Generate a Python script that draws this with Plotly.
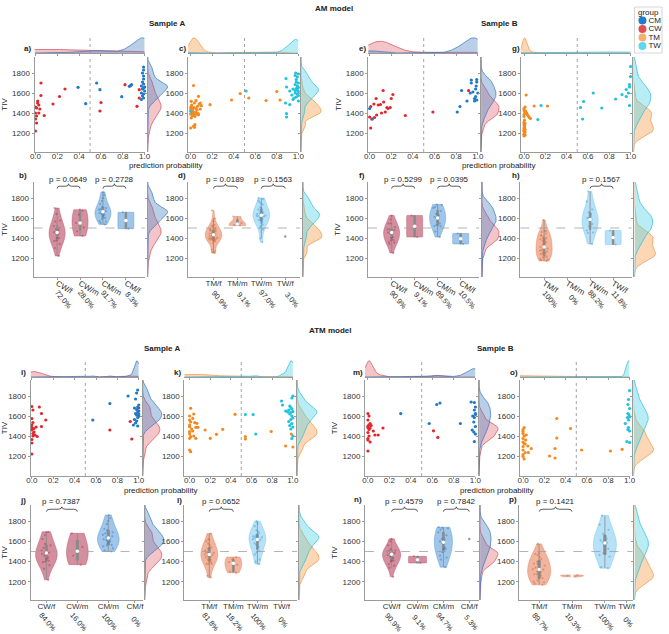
import numpy as np
import plotly.graph_objects as go

W, H = 669, 634
FONT = "Liberation Sans, Arial, sans-serif"
GRAY = "#9b9b9b"

# ---- data: (prediction probability, TIV) per subject ----
# AM model, sample A
am_a_cw = [(0.00, 1220), (0.00, 1340), (0.01, 1370), (0.00, 1400), (0.01, 1450), (0.02, 1500),
           (0.02, 1520), (0.03, 1480), (0.04, 1440), (0.03, 1400), (0.05, 1575), (0.05, 1700),
           (0.08, 1375), (0.16, 1490), (0.22, 1565), (0.27, 1640), (0.00, 1460), (0.01, 1300),
           (0.60, 1505), (0.59, 1420), (0.82, 1683), (0.87, 1673), (0.95, 1633), (0.95, 1550),
           (0.93, 1467)]
am_a_cm = [(0.39, 1657), (0.46, 1493), (0.56, 1700), (0.59, 1633), (0.79, 1563), (0.86, 1667),
           (0.88, 1683), (0.99, 1860), (0.99, 1830), (0.98, 1800), (0.99, 1770), (0.99, 1740),
           (0.98, 1710), (0.99, 1690), (0.97, 1670), (0.99, 1650), (0.98, 1640), (1.00, 1620),
           (0.97, 1600), (0.99, 1590), (0.98, 1570), (0.99, 1550), (0.97, 1535), (1.00, 1660)]
am_a_tm = [(0.027, 1675), (0.073, 1567), (0.05, 1523), (0.006, 1517), (0.10, 1473), (0.09, 1440),
           (0.064, 1467), (0.00, 1450), (0.02, 1433), (0.012, 1400), (0.027, 1383), (0.058, 1393),
           (0.073, 1383), (0.04, 1367), (0.006, 1350), (0.04, 1283), (0.036, 1257), (0.00, 1250),
           (0.027, 1267), (0.18, 1483), (0.38, 1530), (0.46, 1595), (0.01, 1480), (0.03, 1455),
           (0.015, 1420), (0.045, 1410), (0.00, 1390), (0.02, 1375), (0.06, 1430), (0.08, 1490),
           (0.035, 1500), (0.005, 1465), (0.05, 1445), (0.025, 1405), (0.00, 1425), (0.07, 1395),
           (0.015, 1370), (0.09, 1500), (0.04, 1385), (0.01, 1440),
           (0.54, 1550), (0.70, 1525), (0.80, 1615), (0.83, 1530)]
am_a_tw = [(0.003, 1415), (0.515, 1620), (0.885, 1745), (0.975, 1800), (0.97, 1775), (0.89, 1660),
           (0.97, 1685), (0.95, 1640), (0.92, 1620), (0.88, 1500), (0.89, 1395), (0.89, 1360),
           (0.92, 1485), (0.95, 1535), (0.98, 1735), (1.00, 1790), (0.99, 1760), (0.98, 1710),
           (1.00, 1700), (0.99, 1670), (1.00, 1655), (0.98, 1645), (0.99, 1630), (1.00, 1615),
           (0.97, 1600), (0.99, 1590), (1.00, 1575), (0.98, 1560), (0.96, 1550), (1.00, 1520),
           (0.97, 1625), (0.99, 1650), (0.94, 1580)]

# AM model, sample B
am_b_cw = [(0.00, 1360), (0.01, 1250), (0.02, 1340), (0.01, 1465), (0.045, 1355), (0.065, 1380),
           (0.06, 1545), (0.08, 1480), (0.10, 1485), (0.125, 1625), (0.13, 1510), (0.145, 1410),
           (0.16, 1455), (0.17, 1445), (0.19, 1455), (0.20, 1545), (0.215, 1585), (0.33, 1375),
           (0.04, 1490), (0.11, 1400), (0.585, 1410), (0.915, 1625)]
am_b_cm = [(0.025, 1340), (0.00, 1445), (0.81, 1410), (0.835, 1465), (0.85, 1625), (0.90, 1520),
           (0.93, 1600), (0.94, 1700), (0.94, 1730), (0.955, 1610), (0.97, 1545), (0.98, 1565),
           (0.98, 1640), (0.99, 1735), (0.99, 1710), (0.99, 1530), (1.00, 1600), (0.985, 1670),
           (0.97, 1520)]
am_b_tm = [(0.01, 1460), (0.00, 1445), (0.00, 1430), (0.005, 1415), (0.01, 1400), (0.00, 1385),
           (0.00, 1365), (0.005, 1330), (0.00, 1310), (0.01, 1295), (0.00, 1280), (0.005, 1265),
           (0.00, 1250), (0.01, 1235), (0.00, 1220), (0.005, 1205), (0.00, 1190), (0.01, 1180),
           (0.00, 1170), (0.00, 1300), (0.005, 1275), (0.00, 1240), (0.01, 1210), (0.015, 1420),
           (0.025, 1400), (0.03, 1385), (0.04, 1370), (0.05, 1355), (0.06, 1345), (0.02, 1580),
           (0.095, 1470), (0.22, 1470), (0.00, 1185), (0.005, 1255), (0.00, 1225)]
am_b_tw = [(0.16, 1475), (0.13, 1335), (0.53, 1455), (0.56, 1515), (0.55, 1340), (0.65, 1600),
           (0.73, 1450), (0.86, 1540), (0.92, 1585), (0.96, 1635), (0.96, 1565), (0.98, 1600),
           (0.99, 1685), (0.99, 1660), (1.00, 1765), (1.00, 1865), (0.99, 1475)]

# ATM model, sample A
atm_a_cw = [(0.00, 1695), (0.00, 1575), (0.00, 1510), (0.00, 1485), (0.00, 1460), (0.01, 1425),
            (0.01, 1400), (0.00, 1365), (0.00, 1330), (0.00, 1220), (0.01, 1535), (0.02, 1475),
            (0.03, 1410), (0.05, 1395), (0.04, 1490), (0.07, 1690), (0.09, 1625), (0.09, 1495),
            (0.13, 1560), (0.01, 1660), (0.02, 1440),
            (0.73, 1460), (0.92, 1545), (0.935, 1370), (1.00, 1680)]
atm_a_cm = [(0.57, 1560), (0.73, 1725), (0.90, 1800), (0.99, 1860), (0.98, 1830), (0.97, 1770),
            (1.00, 1710), (0.99, 1690), (0.98, 1665), (1.00, 1650), (0.99, 1640), (0.97, 1625),
            (0.98, 1610), (1.00, 1600), (0.99, 1585), (0.96, 1565), (0.98, 1550), (0.97, 1530),
            (0.95, 1510), (0.99, 1500), (0.96, 1680), (1.00, 1620)]
atm_a_tm = [(0.00, 1600), (0.00, 1560), (0.00, 1510), (0.00, 1493), (0.00, 1443), (0.01, 1393),
            (0.00, 1377), (0.00, 1260), (0.01, 1243), (0.01, 1677), (0.04, 1620), (0.03, 1577),
            (0.05, 1533), (0.07, 1527), (0.06, 1487), (0.08, 1487), (0.15, 1460), (0.06, 1377),
            (0.20, 1377), (0.26, 1417), (0.32, 1467), (0.44, 1617), (0.02, 1470), (0.00, 1420),
            (0.03, 1450), (0.01, 1540), (0.04, 1400),
            (0.54, 1395), (0.54, 1370), (0.79, 1445), (0.93, 1300), (1.00, 1290), (0.985, 1420)]
atm_a_tw = [(0.54, 1615), (0.615, 1615), (0.64, 1420), (0.89, 1750), (0.93, 1650), (1.00, 1800),
            (0.99, 1780), (0.97, 1700), (0.98, 1685), (0.99, 1670), (0.96, 1660), (1.00, 1645),
            (0.98, 1635), (0.97, 1620), (0.99, 1600), (1.00, 1580), (0.98, 1565), (0.96, 1545),
            (0.99, 1525), (0.97, 1505), (1.00, 1490), (0.98, 1470), (1.00, 1400), (0.99, 1375),
            (0.95, 1640), (0.90, 1710)]

# ATM model, sample B
atm_b_cw = [(0.00, 1625), (0.01, 1600), (0.00, 1560), (0.01, 1510), (0.00, 1485), (0.01, 1465),
            (0.02, 1480), (0.00, 1435), (0.01, 1400), (0.00, 1375), (0.02, 1340), (0.00, 1360),
            (0.00, 1250), (0.065, 1410), (0.095, 1410), (0.14, 1480), (0.05, 1450), (0.03, 1505),
            (0.02, 1525), (0.00, 1500), (0.61, 1452), (0.65, 1386)]
atm_b_cm = [(0.305, 1624), (0.57, 1525), (0.64, 1715), (0.67, 1730), (0.86, 1525), (0.96, 1740),
            (0.99, 1735), (1.00, 1690), (0.99, 1660), (1.00, 1625), (0.99, 1585), (0.985, 1540),
            (1.00, 1495), (0.97, 1460), (0.985, 1440), (1.00, 1420), (0.99, 1345), (1.00, 1615),
            (0.975, 1600)]
atm_b_tm = [(0.00, 1465), (0.01, 1485), (0.00, 1445), (0.00, 1425), (0.01, 1400), (0.00, 1375),
            (0.025, 1360), (0.00, 1340), (0.01, 1325), (0.00, 1295), (0.045, 1300), (0.077, 1275),
            (0.00, 1260), (0.02, 1235), (0.00, 1215), (0.00, 1195), (0.01, 1170), (0.05, 1235),
            (0.03, 1410), (0.317, 1575), (0.446, 1475), (0.317, 1380), (0.30, 1275), (0.25, 1200),
            (0.30, 1180), (0.02, 1320),
            (0.55, 1260), (0.82, 1250), (0.93, 1267)]
atm_b_tw = [(1.00, 1855), (0.99, 1765), (0.985, 1715), (1.00, 1675), (0.985, 1625), (1.00, 1590),
            (0.98, 1585), (0.96, 1525), (0.99, 1485), (0.985, 1465), (1.00, 1450), (0.975, 1345),
            (1.00, 1335), (0.99, 1560), (0.995, 1610)]

groups_legend = ["CM", "CW", "TM", "TW"]

# colours
PT = dict(CM="#1f78c8", CW="#e3262d", TM="#f5891f", TW="#1fc3dd")
VF = dict(CM="rgba(80,150,215,0.55)", CW="rgba(185,75,100,0.62)",
          TM="rgba(230,120,80,0.55)", TW="rgba(110,195,240,0.5)")
VL = dict(CM="rgba(80,150,215,0.7)", CW="rgba(185,75,100,0.7)",
          TM="rgba(230,120,80,0.7)", TW="rgba(110,195,240,0.7)")
VP = dict(CM="#2f7fc4", CW="#a83a55", TM="#cf6a3a", TW="#3aa4d8")
MF = dict(CM="rgba(70,130,195,0.38)", CW="rgba(226,110,120,0.40)",
          TM="rgba(248,160,80,0.42)", TW="rgba(80,210,230,0.40)")
ML = dict(CM="rgba(60,120,190,0.9)", CW="rgba(214,80,92,0.9)",
          TM="rgba(240,150,70,0.9)", TW="rgba(50,190,215,0.9)")
LG = dict(CM="#1f7bd0", CW="#e05050", TM="#f8b070", TW="#5fd8ef")

HALVES = [dict(top=(37, 53), sc=(57, 152), vi=(182, 277), pct=300, pshift=6, pup=3,
               s_rng=[1010, 1960], v_rng=[1010, 1960]),
          dict(top=(360, 377), sc=(380, 476), vi=(505, 600), pct=622, pshift=2, pup=4,
               s_rng=[1000, 1960], v_rng=[1020, 1960])]

SETS = [
    dict(half=0, lab=("a)", "b)"), lpos=((23, 49), (18, 175)), g=("CW", "CM"), d=(am_a_cw, am_a_cm),
         sx=(30, 31, 142), sm=(145, 166), vx=(29, 142), vm=(145, 166), slots=[0, 1, 2, 3],
         vr=[-1.03, 3.82], p=[(0, 1, "p = 0.0649"), (2, 3, "p = 0.2728")], tiv=True),
    dict(half=0, lab=("c)", "d)"), lpos=((180, 49), (180, 175)), g=("TM", "TW"), d=(am_a_tm, am_a_tw),
         sx=(186, 188.7, 298.3), sm=(301, 322), vx=(186, 300), vm=(303, 323), slots=[0, 1, 2, 3],
         vr=[-1.07, 3.62], p=[(0, 1, "p = 0.0189"), (2, 3, "p = 0.1563")], tiv=False),
    dict(half=0, lab=("e)", "f)"), lpos=((363, 49), (363, 175)), g=("CW", "CM"), d=(am_b_cw, am_b_cm),
         sx=(369.3, 370.7, 480.7), sm=(484, 503), vx=(369, 482), vm=(485, 503), slots=[0, 1, 2, 3],
         vr=[-1.03, 3.8], p=[(0, 1, "p = 0.5299"), (2, 3, "p = 0.0395")], tiv=True),
    dict(half=0, lab=("g)", "h)"), lpos=((520, 49), (520, 175)), g=("TM", "TW"), d=(am_b_tm, am_b_tw),
         sx=(524.3, 527.7, 636), sm=(639, 660), vx=(524, 637), vm=(640, 662), slots=[0, 1, 2, 3],
         vr=[-1.03, 3.8], p=[(2, 3, "p = 0.1567")], tiv=False),
    dict(half=1, lab=("i)", "j)"), lpos=((19, 372), (18, 500)), g=("CW", "CM"), d=(atm_a_cw, atm_a_cm),
         sx=(26, 27.3, 136), sm=(140, 160), vx=(26, 140), vm=(142, 162), slots=[0, 1, 2, 2.86],
         vr=[-0.51, 3.11], p=[(0, 1, "p = 0.7387")], tiv=True),
    dict(half=1, lab=("k)", "l)"), lpos=((175, 372), (177, 500)), g=("TM", "TW"), d=(atm_a_tm, atm_a_tw),
         sx=(182.3, 187.7, 292.7), sm=(297, 318), vx=(182, 297), vm=(299, 320), slots=[0, 1, 2, 3],
         vr=[-1.05, 3.65], p=[(0, 1, "p = 0.0652")], tiv=False),
    dict(half=1, lab=("m)", "n)"), lpos=((359, 372), (359, 499)), g=("CW", "CM"), d=(atm_b_cw, atm_b_cm),
         sx=(366, 369, 478.3), sm=(482, 502), vx=(366, 482), vm=(483, 502), slots=[0, 1, 2, 3],
         vr=[-1.03, 3.38], p=[(0, 1, "p = 0.4579"), (2, 3, "p = 0.7842")], tiv=True),
    dict(half=1, lab=("o)", "p)"), lpos=((518, 372), (517, 499)), g=("TM", "TW"), d=(atm_b_tm, atm_b_tw),
         sx=(523.3, 526.7, 635), sm=(639, 660), vx=(523, 638), vm=(640, 660), slots=[0, 1, 2, 2.66],
         vr=[-0.6, 2.84], p=[(0, 1, "p = 0.1421")], tiv=False),
]

TIV_TICKS = [1200, 1400, 1600, 1800]
P_TICKS = [0, 0.2, 0.4, 0.6, 0.8, 1.0]


def bw_nrd0(v):
    v = np.asarray(v, float)
    sd = v.std(ddof=1)
    q1, q3 = np.percentile(v, [25, 75])
    lo = min(sd, (q3 - q1) / 1.34)
    if lo <= 0:
        lo = sd if sd > 0 else 1.0
    return 0.9 * lo * len(v) ** -0.2


def kde(v, grid, bw):
    v = np.asarray(v, float)
    z = (grid[:, None] - v[None, :]) / bw
    return np.exp(-0.5 * z * z).sum(1) / (len(v) * bw * np.sqrt(2 * np.pi))


layout = dict(width=W, height=H, margin=dict(l=0, r=0, t=0, b=0),
              paper_bgcolor="white", plot_bgcolor="white", showlegend=False,
              hovermode=False, violinmode="overlay",
              font=dict(family=FONT, size=8, color="#222"),
              shapes=[], annotations=[])
traces = []
n_ax = [0]


def axis(**kw):
    d = dict(showgrid=False, zeroline=False, showline=True, linecolor=GRAY, linewidth=1,
             ticks="outside", ticklen=2, tickcolor=GRAY, tickwidth=0.8,
             tickfont=dict(size=8, color="#333"), fixedrange=True)
    d.update(kw)
    return d


def hidden(**kw):
    d = dict(visible=False, fixedrange=True, showgrid=False, zeroline=False)
    d.update(kw)
    return d


def add_axes(xpx, ypx, xa, ya):
    n_ax[0] += 1
    k = n_ax[0]
    sfx = "" if k == 1 else str(k)
    layout["xaxis" + sfx] = dict(domain=[xpx[0] / W, xpx[1] / W], anchor="y" + sfx, **xa)
    layout["yaxis" + sfx] = dict(domain=[1 - ypx[1] / H, 1 - ypx[0] / H], anchor="x" + sfx, **ya)
    return "x" + sfx, "y" + sfx


def text(x, y, s, size=8, **kw):
    a = dict(x=x / W, y=1 - y / H, xref="paper", yref="paper", text=s, showarrow=False,
             xanchor="center", yanchor="middle", font=dict(size=size, color="#222"))
    a.update(kw)
    layout["annotations"].append(a)


def right_marginal(xpx, ypx, groups, rng):
    grid = np.linspace(rng[0], rng[1], 300)
    dens = []
    for g, d in groups:
        t = [v for _, v in d]
        dens.append((g, kde(t, grid, bw_nrd0(t))))
    mx = max(v.max() for _, v in dens)
    xa, ya = add_axes(xpx, ypx, hidden(range=[0, mx * 1.03]),
                      axis(range=rng, tickvals=TIV_TICKS, showticklabels=False, ticklen=2))
    for g, v in dens:
        traces.append(go.Scatter(x=v, y=grid, mode="lines", fill="tozerox", fillcolor=MF[g],
                                 line=dict(color=ML[g], width=0.8), xaxis=xa, yaxis=ya))


for s in SETS:
    hf = HALVES[s["half"]]
    (g1, g2), (d1, d2) = s["g"], s["d"]
    groups = [(g1, d1), (g2, d2)]
    ax0, zero, one = s["sx"]
    srange = [-(zero - ax0) / (one - zero), 1.0]

    # top marginal: density of prediction probability
    gp = np.linspace(srange[0], 1.0, 300)
    dens = []
    for g, d in groups:
        p = [v for v, _ in d]
        dens.append((g, kde(p, gp, max(2 * bw_nrd0(p), 0.02))))
    mx = max(v.max() for _, v in dens)
    xt, yt = add_axes((ax0, one), hf["top"],
                      axis(range=srange, tickvals=P_TICKS, showticklabels=False, ticklen=2),
                      hidden(range=[0, mx * 1.05]))
    for g, v in dens:
        traces.append(go.Scatter(x=gp, y=v, mode="lines", fill="tozeroy", fillcolor=MF[g],
                                 line=dict(color=ML[g], width=0.8), xaxis=xt, yaxis=yt))
    layout["shapes"].append(dict(type="line", xref=xt, yref=yt + " domain", x0=0.5, x1=0.5,
                                 y0=0, y1=1, line=dict(color="#8a8a8a", width=0.8, dash="dot")))

    # scatter
    ytitle = dict(text="TIV", font=dict(size=8), standoff=3) if s["tiv"] else None
    xs, ys = add_axes((ax0, one), hf["sc"],
                      axis(range=srange, tickvals=P_TICKS, tickformat=".1f", ticklabelstandoff=-6),
                      axis(range=hf["s_rng"], tickvals=TIV_TICKS, title=ytitle))
    layout["shapes"].append(dict(type="line", xref=xs, yref=ys + " domain", x0=0.5, x1=0.5,
                                 y0=0, y1=1, line=dict(color="#8a8a8a", width=0.8, dash="dot")))
    for g, d in groups:
        traces.append(go.Scatter(x=[p for p, _ in d], y=[t for _, t in d], mode="markers",
                                 marker=dict(size=3.2, color=PT[g]), cliponaxis=False,
                                 xaxis=xs, yaxis=ys))
    right_marginal(s["sm"], hf["sc"], groups, hf["s_rng"])

    # violin panel
    cats = [(g1, d1, True), (g1, d1, False), (g2, d2, False), (g2, d2, True)]
    labels = [f"{g}/{'f' if low else 'm'}" for g, _, low in cats]
    xv, yv = add_axes(s["vx"], hf["vi"],
                      axis(range=s["vr"], tickvals=s["slots"], ticktext=labels, ticklabelstandoff=-4),
                      axis(range=hf["v_rng"], tickvals=TIV_TICKS, title=ytitle))
    layout["shapes"].append(dict(type="line", xref=xv + " domain", yref=yv, x0=0, x1=1,
                                 y0=1500, y1=1500, line=dict(color="#a0a0a0", width=0.8, dash="dash")))
    for pos, (g, d, low) in zip(s["slots"], cats):
        vals = [t for p, t in d if (p < 0.5) == low]
        pct = 100.0 * len(vals) / len(d)
        ptxt = f"{pct:.0f}%" if pct in (0.0, 100.0) else f"{pct:.1f}%"
        layout["annotations"].append(dict(x=pos, y=1 - hf["pct"] / H, xref=xv, yref="paper",
                                          text=ptxt, showarrow=False, textangle=50,
                                          xanchor="center", yanchor="middle",
                                          xshift=hf["pshift"], font=dict(size=7.5, color="#333")))
        if len(vals) >= 2:
            traces.append(go.Violin(x=[pos] * len(vals), y=vals, xaxis=xv, yaxis=yv, width=0.7,
                                    spanmode="hard", bandwidth=1.6 * bw_nrd0(vals), scalemode="width",
                                    points="all", jitter=0.6, pointpos=0,
                                    marker=dict(size=2.2, color=VP[g], opacity=0.5),
                                    fillcolor=VF[g], line=dict(color=VL[g], width=0.6),
                                    box=dict(visible=True, width=0.1, fillcolor="#8a8a8a",
                                             line=dict(color="#8a8a8a", width=0.8))))
            traces.append(go.Scatter(x=[pos], y=[float(np.median(vals))], mode="markers",
                                     marker=dict(size=3.5, color="white"), xaxis=xv, yaxis=yv))
        elif len(vals) == 1:
            traces.append(go.Scatter(x=[pos], y=vals, mode="markers",
                                     marker=dict(size=2.5, color="#9a9a9a"), xaxis=xv, yaxis=yv))
    for i, j, ptxt in s["p"]:
        x0, x1 = s["slots"][i], s["slots"][j]
        xm = (x0 + x1) / 2
        yb, hh, q = 1918, 24, 0.12
        path = (f"M {x0},{yb - hh} Q {x0},{yb} {x0 + q},{yb} L {xm - q},{yb} "
                f"Q {xm},{yb} {xm},{yb + hh} Q {xm},{yb} {xm + q},{yb} L {x1 - q},{yb} "
                f"Q {x1},{yb} {x1},{yb - hh}")
        layout["shapes"].append(dict(type="path", xref=xv, yref=yv, path=path,
                                     line=dict(color="#333", width=0.8)))
        layout["annotations"].append(dict(x=xm, y=1, xref=xv, yref=yv + " domain", text=ptxt,
                                          showarrow=False, xanchor="center", yanchor="middle",
                                          yshift=hf["pup"], font=dict(size=8, color="#222")))
    right_marginal(s["vm"], hf["vi"], groups, hf["v_rng"])

    # panel letters
    text(*s["lpos"][0], f"<b>{s['lab'][0]}</b>")
    text(*s["lpos"][1], f"<b>{s['lab'][1]}</b>")

# titles and shared axis labels
text(334, 8, "<b>AM model</b>")
text(165, 24, "<b>Sample A</b>")
text(503, 24, "<b>Sample B</b>")
text(331, 330, "<b>ATM model</b>")
text(160, 348, "<b>Sample A</b>")
text(499, 348, "<b>Sample B</b>")
for x, y in [(163, 166), (502, 166), (158, 490), (500, 490)]:
    text(x, y, "prediction probability")

# legend box
xl, yl = add_axes((640, 668), (7, 53), hidden(range=[0, 1]), hidden(range=[-0.82, 4.59]))
traces.append(go.Scatter(x=[0.29] * 4, y=[3, 2, 1, 0], mode="markers+text",
                         text=groups_legend, textposition="middle right",
                         textfont=dict(size=8, color="#222"),
                         marker=dict(size=8, color=[LG[g] for g in groups_legend]),
                         cliponaxis=False, xaxis=xl, yaxis=yl))
layout["annotations"].append(dict(x=0.5, y=4, xref=xl, yref=yl, text="group", showarrow=False,
                                  font=dict(size=8, color="#222")))
layout["shapes"].append(dict(type="rect", xref="paper", yref="paper", x0=640 / W, x1=668 / W,
                             y0=1 - 53 / H, y1=1 - 7 / H, line=dict(color="#cccccc", width=0.8)))

fig = go.Figure(data=traces, layout=layout)
fig.write_html("out.html", config={"displayModeBar": False},
               post_script="document.body.style.margin='0px';")
